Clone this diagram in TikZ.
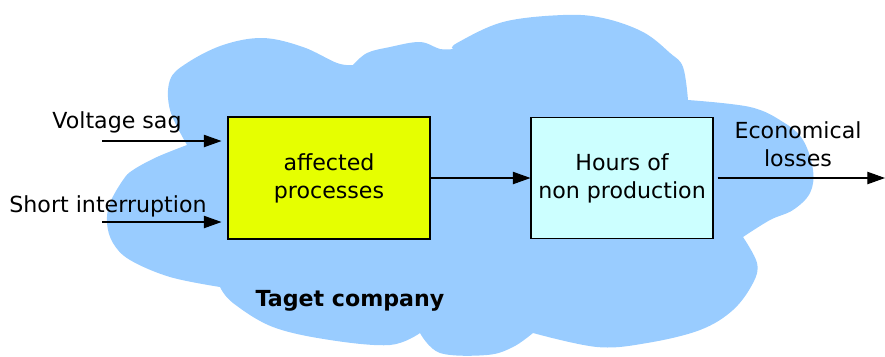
\documentclass[tikz,border=0pt]{standalone}
\usepackage{fontspec}
\setmainfont{DejaVu Sans}
\usetikzlibrary{arrows.meta}

\definecolor{cloudblue}{RGB}{153,204,255}
\definecolor{procyellow}{RGB}{230,255,0}
\definecolor{hourcyan}{RGB}{204,255,255}

\begin{document}
\begin{tikzpicture}[x=0.02cm, y=-0.02cm,
    font=\fontsize{12.6}{16}\selectfont,
    box/.style={draw, line width=0.6pt, align=center, inner sep=2pt},
    arr/.style={-{Triangle[length=10pt,width=7pt]}, line width=0.6pt}]
    \useasboundingbox (0,0) rectangle (885,356);

    % the company cloud, one smooth run per lobe, sharp where lobes meet
    \fill[cloudblue]
        plot[smooth, tension=0.6] coordinates {(187,145) (170,110) (170,80) (187,63) (223,45) (263,38) (303,47) (337,63) (353,65)}
        -- plot[smooth, tension=0.6] coordinates {(353,65) (367,53) (390,47) (420,42) (440,49) (453,49)}
        -- plot[smooth, tension=0.6] coordinates {(453,49) (457,43) (503,22) (563,15) (603,18) (643,32) (670,53) (683,67) (688,100)}
        -- plot[smooth, tension=0.6] coordinates {(688,100) (750,107) (783,122) (803,140) (813,170) (810,193) (793,210) (770,220) (743,237)}
        -- plot[smooth, tension=0.6] coordinates {(743,237) (757,263) (753,283) (733,310) (700,330) (647,343) (597,347) (533,333)}
        -- plot[smooth, tension=0.6] coordinates {(533,333) (513,347) (487,355) (440,353) (420,333)}
        -- plot[smooth, tension=0.6] coordinates {(420,333) (390,345) (330,340) (273,327) (233,303) (220,287)}
        -- plot[smooth, tension=0.6] coordinates {(220,287) (170,277) (130,260) (113,243) (107,223) (110,203) (123,180) (133,170) (157,157) (187,145)}
        -- cycle;

    % the two blocks
    \node[box, fill=procyellow, minimum width=4.04cm, minimum height=2.44cm] (proc) at (329,178) {affected\\processes};
    \node[box, fill=hourcyan, minimum width=3.64cm, minimum height=2.42cm] (hours) at (622,178) {Hours of\\non production};

    % inputs on the left
    \node[anchor=base] (vsag) at (117,128) {Voltage sag};
    \node[anchor=base] (sint) at (108,212) {Short interruption};
    \coordinate (vin) at (102,141);
    \coordinate (sin) at (102,222);
    \draw[arr, shorten >=0.12cm] (vin) -- (vin -| proc.west);
    \draw[arr, shorten >=0.12cm] (sin) -- (sin -| proc.west);

    % flow through the blocks and out
    \draw[arr] (proc.east) -- (hours.west);
    \coordinate (out) at (885,178);
    \draw[arr, shorten <=0.08cm] (hours.east) -- (out);
    \node[align=center] (loss) at (798,144) {Economical\\losses};

    \node[anchor=base, font=\fontsize{12.6}{16}\selectfont\bfseries] (firm) at (350,306) {Taget company};
\end{tikzpicture}
\end{document}
